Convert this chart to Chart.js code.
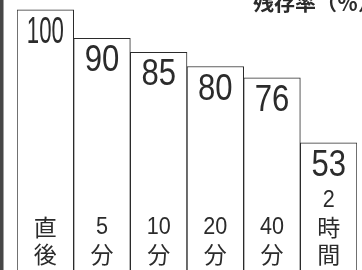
<!DOCTYPE html>
<html>
<head>
<meta charset="utf-8">
<script src="https://cdn.jsdelivr.net/npm/chart.js@4/dist/chart.umd.min.js"></script>
<style>
  html, body { margin: 0; padding: 0; background: #fff; overflow: hidden; }
  .wrap { position: relative; width: 362px; height: 270px; }
  /* dark scan edge on the left */
  .wrap::before {
    content: ''; position: absolute; left: 0; top: 0; width: 3px; height: 270px;
    background: #474747; border-right: 1px solid #a0a0a0;
  }
  canvas { display: block; }
</style>
</head>
<body>
<div class="wrap">
  <canvas id="chart" width="362" height="270"></canvas>
</div>
<script>
// 経過時間（縦書きラベル）
const periods = [['直', '後'], ['5', '分'], ['10', '分'], ['20', '分'], ['40', '分'], ['2', '時', '間']];
// 残存率 (%)
const retention = [100, 90, 85, 80, 76, 53];
const titleText = '残存率（％）';

const ink = '#2b2b2b';

// 細長い数字（横方向に縮めて描く）
function narrowText(ctx, text, x, y, squeeze, maxWidth) {
  ctx.save();
  ctx.translate(x, y);
  ctx.scale(squeeze, 1);
  ctx.fillText(text, 0, 0, maxWidth / squeeze);
  ctx.restore();
}

// 値・ラベル・見出しを箱の中に描く
const boxLabels = {
  id: 'boxLabels',
  afterDatasetsDraw(chart) {
    const ctx = chart.ctx;
    const area = chart.chartArea;
    const meta = chart.getDatasetMeta(0);
    ctx.save();
    ctx.fillStyle = ink;
    ctx.textAlign = 'center';
    meta.data.forEach((bar, i) => {
      ctx.font = "37px 'Liberation Sans', Arial, sans-serif";
      ctx.textBaseline = 'alphabetic';
      narrowText(ctx, String(retention[i]), bar.x, bar.y + 33, 0.84, 37);

      const lines = periods[i];
      ctx.textBaseline = 'middle';
      lines.forEach((line, j) => {
        const y = area.bottom - 16 - (lines.length - 1 - j) * 27;
        if (/^[0-9]+$/.test(line)) {
          ctx.font = "24px 'Liberation Sans', Arial, sans-serif";
          narrowText(ctx, line, bar.x, y, 0.9, 28);
        } else {
          ctx.font = "23px 'Noto Sans CJK JP', sans-serif";
          ctx.fillText(line, bar.x, y);
        }
      });
    });
    ctx.textAlign = 'left';
    ctx.textBaseline = 'alphabetic';
    ctx.font = "bold 21px 'Noto Sans CJK JP', sans-serif";
    ctx.fillText(titleText, 253, 10);
    ctx.restore();
  }
};

new Chart(document.getElementById('chart'), {
  type: 'bar',
  data: {
    labels: periods,
    datasets: [{
      data: retention,
      backgroundColor: '#ffffff',
      borderColor: ink,
      borderWidth: 1,
      barPercentage: 1,
      categoryPercentage: 1
    }]
  },
  options: {
    responsive: false,
    animation: false,
    layout: { padding: { left: 17, right: 5, top: 0, bottom: 0 } },
    scales: {
      x: { display: false },
      y: { display: false, min: 8.1, max: 103.5 }
    },
    plugins: {
      legend: { display: false },
      tooltip: { enabled: false },
      title: { display: false }
    }
  },
  plugins: [boxLabels]
});
</script>
</body>
</html>
